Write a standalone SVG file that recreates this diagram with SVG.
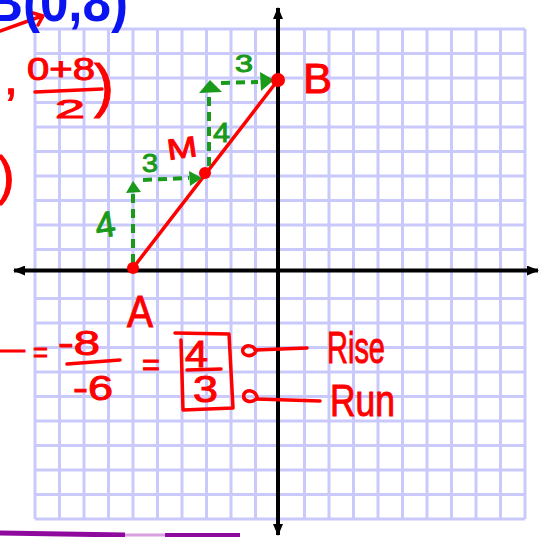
<svg xmlns="http://www.w3.org/2000/svg" width="540" height="537" viewBox="0 0 540 537">
<style>
.grid{fill:none;stroke:#c9c9fb;stroke-width:3}
.axis{fill:none;stroke:#000;stroke-width:4}
.red{fill:#ff0000;stroke:#ff0000;stroke-width:1;font-family:"Liberation Sans",Arial,sans-serif}
.grn{fill:#1a9a1a;stroke:#1a9a1a;stroke-width:1;font-family:"Liberation Sans",Arial,sans-serif}
.rl{fill:none;stroke:#ff0000;stroke-width:3.5;stroke-linecap:round;stroke-linejoin:round}
.gd{fill:none;stroke:#1a9a1a;stroke-width:4;stroke-dasharray:9 6}
.tri{fill:#1a9a1a}
.dot{fill:#ff0000}
</style>
<defs>
<marker id="ah" viewBox="0 0 12 10" refX="11" refY="5" markerWidth="12" markerHeight="10" markerUnits="userSpaceOnUse" orient="auto-start-reverse">
<path d="M0,0 L12,5 L0,10 Z" fill="#000"/>
</marker>
</defs>
<rect width="540" height="537" fill="#fff"/>
<g id="grid">
<path class="grid" d="M35,29V519M59.5,29V519M84,29V519M108.5,29V519M133,29V519M157.5,29V519M182,29V519M206.5,29V519M231,29V519M255.5,29V519M304.5,29V519M329,29V519M353.5,29V519M378,29V519M402.5,29V519M427,29V519M451.5,29V519M476,29V519M500.5,29V519M525,29V519
M35,29H525M35,53.5H525M35,78H525M35,102.5H525M35,127H525M35,151.5H525M35,176H525M35,200.5H525M35,225H525M35,249.5H525M35,298.5H525M35,323H525M35,347.5H525M35,372H525M35,396.5H525M35,421H525M35,445.5H525M35,470H525M35,494.5H525M35,519H525"/>
</g>
<g id="axes">
<path class="axis" d="M14,270.5H538" marker-start="url(#ah)" marker-end="url(#ah)"/>
<path class="axis" d="M278,8V535" marker-start="url(#ah)" marker-end="url(#ah)"/>
</g>
<g id="connectors">
<path class="rl" d="M133,268 L278,80" stroke-width="4"/>
<path class="gd" d="M133,263 L133,193"/>
<path class="gd" d="M143,180 L189,178"/>
<path class="gd" d="M209,166 L209,97"/>
<path class="gd" d="M221,83 L258,82"/>
<polygon class="tri" points="126,193 133,181 141,192"/>
<polygon class="tri" points="189,171 202,178 190,186"/>
<polygon class="tri" points="199,93 210,80 222,92"/>
<polygon class="tri" points="260,72 274,80 261,91"/>
<path class="rl" d="M0,31 L42,16 M33,13 L43,16 L38,25"/>
<path class="rl" d="M255,350 L307,348"/>
<path class="rl" d="M256,399 L320,401"/>
<path class="rl" d="M256,351 C254,345 246,344 243,349 C241,355 250,358 255,353"/>
<path class="rl" d="M257,397 C255,390 247,389 244,394 C242,401 251,404 256,399"/>
</g>
<g id="point-A">
<circle class="dot" cx="133" cy="268" r="6"/>
<text class="red" x="127" y="327" font-size="44" textLength="26" lengthAdjust="spacingAndGlyphs">A</text>
</g>
<g id="point-M">
<circle class="dot" cx="205" cy="173" r="6"/>
<text class="red" x="167" y="158" font-size="29" textLength="30" lengthAdjust="spacingAndGlyphs" transform="rotate(-8 182 148)">M</text>
</g>
<g id="point-B">
<circle class="dot" cx="278" cy="80" r="7"/>
<text class="red" x="303" y="93" font-size="42" textLength="29" lengthAdjust="spacingAndGlyphs">B</text>
</g>
<g id="run-rise-labels">
<text class="grn" x="95" y="237" font-size="36" textLength="20" lengthAdjust="spacingAndGlyphs" transform="rotate(-8 105 223)">4</text>
<text class="grn" x="142" y="172" font-size="26" textLength="16" lengthAdjust="spacingAndGlyphs">3</text>
<text class="grn" x="213" y="142" font-size="28" textLength="17" lengthAdjust="spacingAndGlyphs">4</text>
<text class="grn" x="235" y="72" font-size="24" textLength="18" lengthAdjust="spacingAndGlyphs">3</text>
</g>
<g id="title">
<text x="-14" y="21" font-size="56" font-weight="bold" fill="#0a14f0" font-family="'Liberation Sans',Arial,sans-serif" textLength="142" lengthAdjust="spacingAndGlyphs">B(0,8)</text>
</g>
<g id="midpoint-formula">
<text class="red" x="4" y="94" font-size="50" stroke-width="2">,</text>
<text class="red" x="27" y="80" font-size="32" textLength="68" lengthAdjust="spacingAndGlyphs">0+8</text>
<path class="rl" d="M35,92 L102,89"/>
<text class="red" x="55" y="118" font-size="26" textLength="30" lengthAdjust="spacingAndGlyphs">2</text>
<text class="red" x="94" y="106" font-size="60">)</text>
<text class="red" x="-3" y="194" font-size="53">)</text>
</g>
<g id="slope-formula">
<text class="red" x="-3" y="359" font-size="30" textLength="28" lengthAdjust="spacingAndGlyphs">—</text>
<text class="red" x="33" y="362" font-size="28" textLength="15" lengthAdjust="spacingAndGlyphs">=</text>
<text class="red" x="58" y="355" font-size="35" textLength="42" lengthAdjust="spacingAndGlyphs">-8</text>
<path class="rl" d="M67,364 L120,360"/>
<text class="red" x="73" y="400" font-size="35" textLength="40" lengthAdjust="spacingAndGlyphs">-6</text>
<text class="red" x="142" y="375" font-size="30" textLength="18" lengthAdjust="spacingAndGlyphs">=</text>
<path class="rl" d="M175,333 L229,334 L233,408 L183,410 L181,340"/>
<text class="red" x="185" y="367" font-size="36" textLength="23" lengthAdjust="spacingAndGlyphs">4</text>
<path class="rl" d="M187,370 L221,369"/>
<text class="red" x="193" y="402" font-size="36" textLength="25" lengthAdjust="spacingAndGlyphs">3</text>
<text class="red" x="327" y="363" font-size="44" textLength="58" lengthAdjust="spacingAndGlyphs">Rise</text>
<text class="red" x="330" y="416" font-size="44" textLength="65" lengthAdjust="spacingAndGlyphs">Run</text>
</g>
<g id="purple-stroke">
<path d="M0,533 L125,535" stroke="#8e0a9e" stroke-width="5" fill="none"/>
<path d="M125,535 L165,535" stroke="#d9a0e0" stroke-width="3" fill="none"/>
<path d="M165,535 L240,535" stroke="#8e0a9e" stroke-width="4" fill="none"/>
</g>
</svg>
